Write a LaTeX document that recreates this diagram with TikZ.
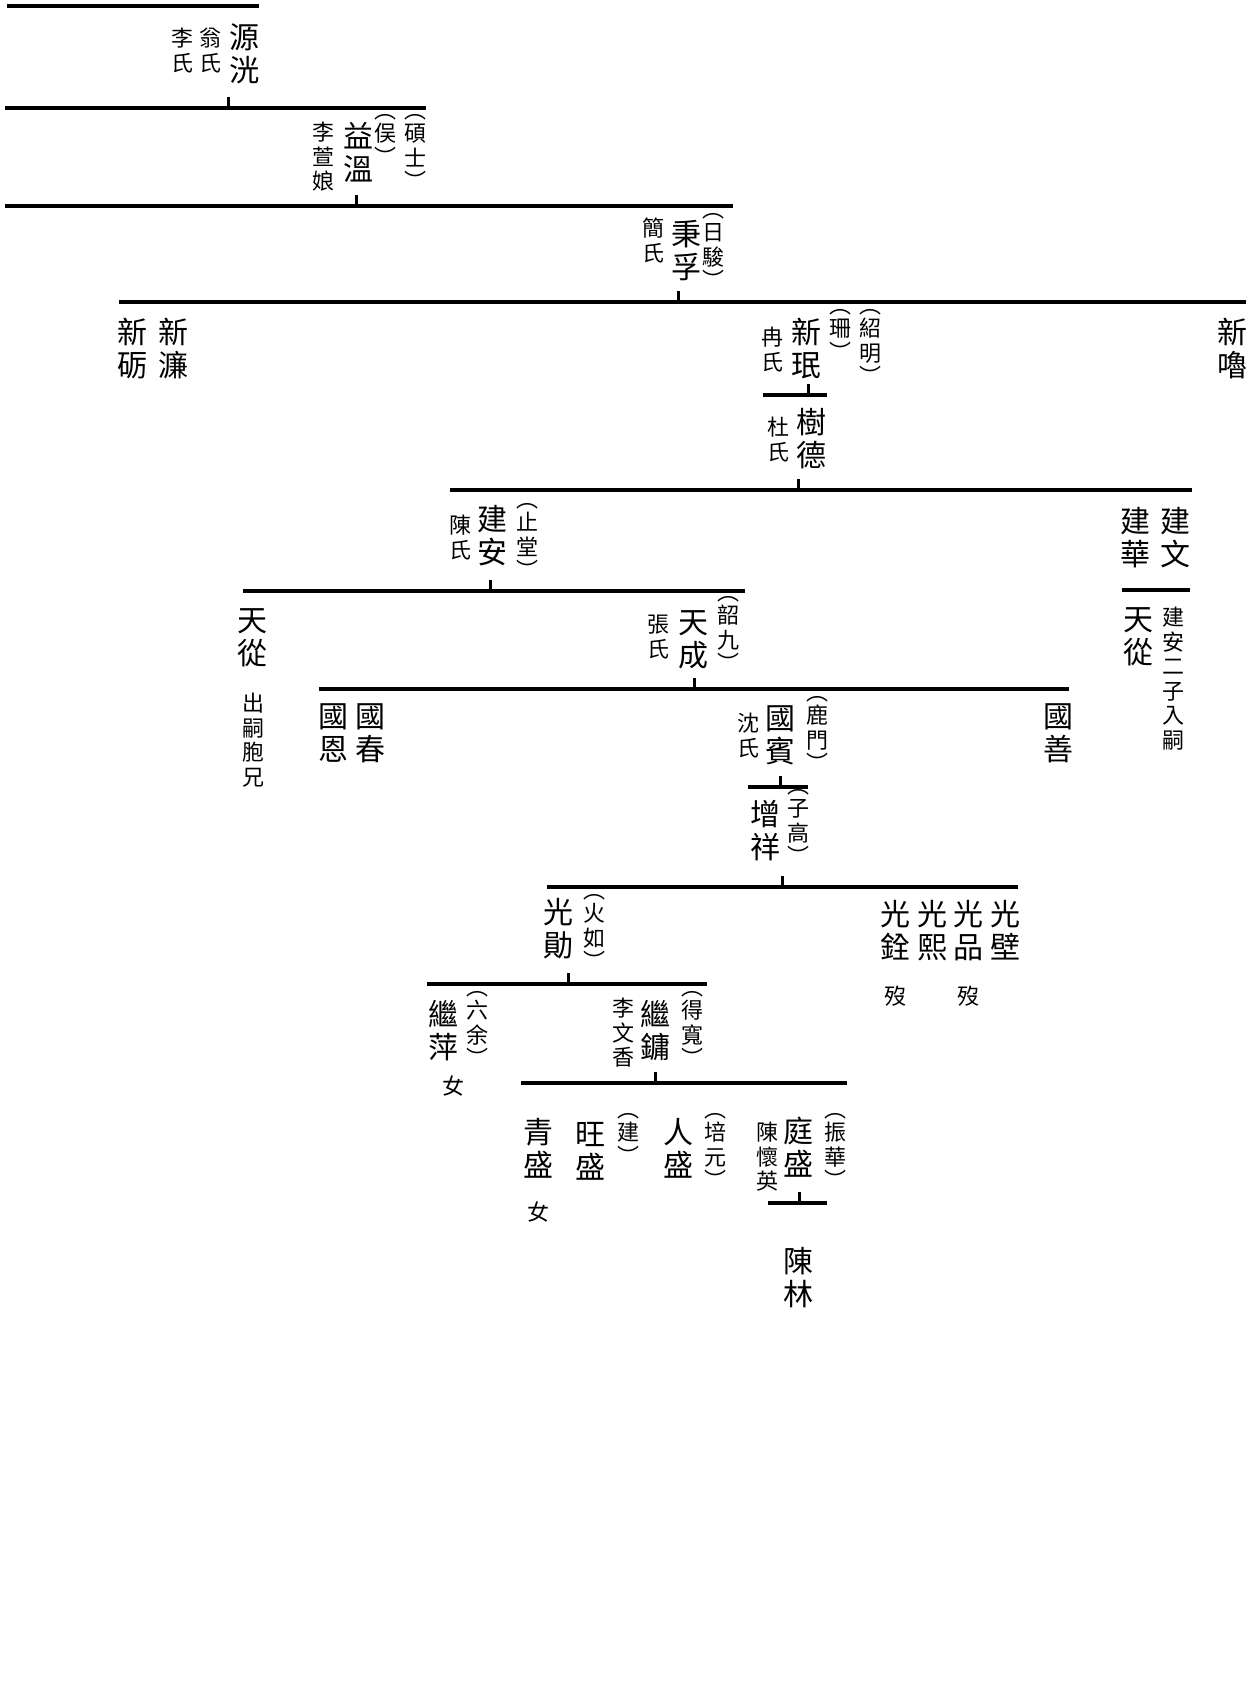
\documentclass[tikz,border=0pt]{standalone}
\usepackage{fontspec}
\newfontfamily\cjk{Noto Sans CJK TC}
\newcommand{\lp}{︵\\[-1pt]}
\newcommand{\rp}{\\[-1pt]︶}

\begin{document}
\begin{tikzpicture}[x=1pt, y=-1pt,
    big/.style={font=\fontsize{30}{33}\selectfont\cjk, align=center, inner sep=0pt, anchor=north},
    small/.style={font=\fontsize{22}{24.5}\selectfont\cjk, align=center, inner sep=0pt, anchor=north},
    genbar/.style={line width=3.5pt},
    drop/.style={line width=3pt}]
  \fill[white] (0,0) rectangle (1246,1696);
  \useasboundingbox (0,0) rectangle (1246,1696);

  % bars of each generation
  \foreach \b/\xa/\xb/\y in {b0/7/259/6, b1/5/426/108, b2/5/733/206, b3/119/1250/302,
      b4/763/827/395, b5/450/1192/490, b6/1122/1190/590, b7/243/745/591,
      b8/319/1069/689, b9/748/808/787, b10/547/1018/887, b11/427/707/984,
      b12/521/847/1083, b13/768/827/1203}
    {\coordinate (\b l) at (\xa,\y); \coordinate (\b r) at (\xb,\y);
     \draw[genbar] (\b l) -- (\b r);}
  % drops from parent to bar
  \foreach \x/\y in {228/108, 356/206, 678/302, 808/395, 798/490, 490/591,
      694/689, 780/787, 782/887, 568/984, 655/1083, 799/1203}
    \draw[drop] (\x,\y) -- (\x,\y-11);

  \node[big] (yuanguang) at (244,23) {源\\洸};
  \node[small] (ygw1) at (210,28) {翁\\氏};
  \node[small] (ygw2) at (182,28) {李\\氏};

  \node[big] (yiwen) at (358,122) {益\\溫};
  \node[small] (yiwena) at (385,114) {\lp 俣\rp};
  \node[small] (yiwenb) at (415,114) {\lp 碩\\士\rp};
  \node[small] (yiwenw) at (323,122) {李\\萱\\娘};

  \node[big] (bingfu) at (686,220) {秉\\孚};
  \node[small] (bingfua) at (713,213) {\lp 日\\駿\rp};
  \node[small] (bingfuw) at (653,218) {簡\\氏};

  \node[big] (xinli) at (132,318) {新\\砺};
  \node[big] (xinlian) at (173,318) {新\\濂};
  \node[big] (xinmin) at (806,318) {新\\珉};
  \node[small] (xinmina) at (840,309) {\lp 珊\rp};
  \node[small] (xinminb) at (870,309) {\lp 紹\\明\rp};
  \node[small] (xinminw) at (772,327) {冉\\氏};
  \node[big] (xinlu) at (1232,318) {新\\嚕};

  \node[big] (shude) at (811,408) {樹\\德};
  \node[small] (shudew) at (778,417) {杜\\氏};

  \node[big] (jianan) at (492,505) {建\\安};
  \node[small] (jianana) at (527,503) {\lp 止\\堂\rp};
  \node[small] (jiananw) at (460,515) {陳\\氏};
  \node[big] (jianhua) at (1135,507) {建\\華};
  \node[big] (jianwen) at (1175,507) {建\\文};
  \node[big] (tiancongb) at (1138,607) {天\\從};
  \node[small] (tiancongbn) at (1173,607) {建\\安\\二\\子\\入\\嗣};

  \node[big] (tiancong) at (252,608) {天\\從};
  \node[small] (tiancongn) at (253,693) {出\\嗣\\胞\\兄};
  \node[big] (tiancheng) at (693,610) {天\\成};
  \node[small] (tianchenga) at (728,596) {\lp 韶\\九\rp};
  \node[small] (tianchengw) at (658,615) {張\\氏};

  \node[big] (guoen) at (333,703) {國\\恩};
  \node[big] (guochun) at (370,703) {國\\春};
  \node[big] (guobin) at (780,705) {國\\賓};
  \node[small] (guobina) at (817,696) {\lp 鹿\\門\rp};
  \node[small] (guobinw) at (748,713) {沈\\氏};
  \node[big] (guoshan) at (1058,703) {國\\善};

  \node[big] (zengxiang) at (765,800) {增\\祥};
  \node[small] (zengxianga) at (798,789) {\lp 子\\高\rp};

  \node[big] (guangxun) at (558,898) {光\\勛};
  \node[small] (guangxuna) at (594,894) {\lp 火\\如\rp};
  \node[big] (guangquan) at (895,900) {光\\銓};
  \node[big] (guangxi) at (932,900) {光\\熙};
  \node[big] (guangpin) at (968,900) {光\\品};
  \node[big] (guangbi) at (1005,900) {光\\壁};
  \node[small] (guangquand) at (895,986) {歿};
  \node[small] (guangpind) at (968,986) {歿};

  \node[big] (jiping) at (443,1000) {繼\\萍};
  \node[small] (jipinga) at (477,991) {\lp 六\\余\rp};
  \node[small] (jipingf) at (453,1076) {女};
  \node[big] (jiyong) at (655,1000) {繼\\鏞};
  \node[small] (jiyonga) at (692,991) {\lp 得\\寬\rp};
  \node[small] (jiyongw) at (623,998) {李\\文\\香};

  \node[big] (qingsheng) at (538,1118) {青\\盛};
  \node[small] (qingshengf) at (538,1202) {女};
  \node[big] (wangsheng) at (590,1122) {旺\\盛};
  \node[small] (wangshenga) at (628,1113) {\lp 建\rp};
  \node[big] (rensheng) at (678,1118) {人\\盛};
  \node[small] (renshenga) at (715,1113) {\lp 培\\元\rp};
  \node[big] (tingsheng) at (798,1117) {庭\\盛};
  \node[small] (tingshenga) at (835,1113) {\lp 振\\華\rp};
  \node[small] (tingshengw) at (767,1122) {陳\\懷\\英};

  \node[big] (chenlin) at (798,1247) {陳\\林};
\end{tikzpicture}
\end{document}
